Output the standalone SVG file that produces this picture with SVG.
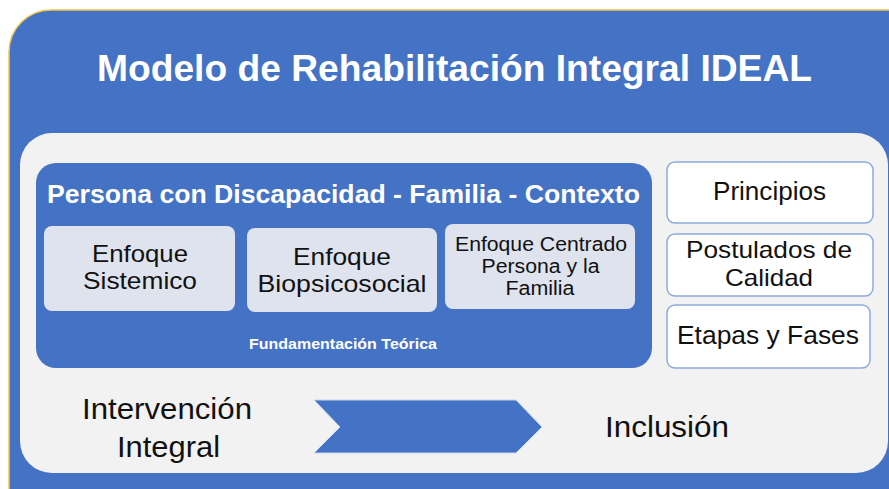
<svg xmlns="http://www.w3.org/2000/svg" width="889" height="489" viewBox="0 0 889 489">
<style>
.w{fill:#ffffff;font-family:"Liberation Sans",Arial,sans-serif;font-weight:bold;text-anchor:middle}
.t{fill:#111111;font-family:"Liberation Sans",Arial,sans-serif;text-anchor:middle}
.sub{fill:#dfe3ee;}
.side{fill:#ffffff;stroke:#8eaadb;stroke-width:1.5}
</style>
<rect width="889" height="489" fill="#ffffff"/>
<g id="outer">
<rect x="9" y="10" width="920" height="520" rx="42" fill="#4472c4" stroke="#f2c546" stroke-width="1.5"/>
<text class="w" x="454.5" y="81" font-size="37" textLength="715" lengthAdjust="spacingAndGlyphs">Modelo de Rehabilitación Integral IDEAL</text>
</g>
<g id="panel">
<rect x="20" y="133" width="868" height="340" rx="32" fill="#f2f2f2"/>
</g>
<g id="fundamentacion">
<rect x="36" y="163" width="616" height="205" rx="20" fill="#4472c4"/>
<text class="w" x="343.5" y="203" font-size="25" textLength="593" lengthAdjust="spacingAndGlyphs">Persona con Discapacidad - Familia - Contexto</text>
<text class="w" x="343" y="349" font-size="15.5" textLength="188" lengthAdjust="spacingAndGlyphs">Fundamentación Teórica</text>
</g>
<g id="sistemico">
<rect class="sub" x="44" y="226" width="191" height="85" rx="8"/>
<text class="t" x="140" y="262" font-size="24" textLength="96" lengthAdjust="spacingAndGlyphs">Enfoque</text>
<text class="t" x="140" y="289" font-size="24" textLength="114" lengthAdjust="spacingAndGlyphs">Sistemico</text>
</g>
<g id="biopsicosocial">
<rect class="sub" x="247" y="228" width="190" height="84" rx="8"/>
<text class="t" x="342" y="265" font-size="24" textLength="98" lengthAdjust="spacingAndGlyphs">Enfoque</text>
<text class="t" x="342" y="292" font-size="24" textLength="169" lengthAdjust="spacingAndGlyphs">Biopsicosocial</text>
</g>
<g id="centrado">
<rect class="sub" x="445" y="224" width="190" height="85" rx="8"/>
<text class="t" x="541" y="251" font-size="19.5" textLength="172" lengthAdjust="spacingAndGlyphs">Enfoque Centrado</text>
<text class="t" x="540.5" y="273" font-size="19.5" textLength="118" lengthAdjust="spacingAndGlyphs">Persona y la</text>
<text class="t" x="540" y="295" font-size="19.5" textLength="69" lengthAdjust="spacingAndGlyphs">Familia</text>
</g>
<g id="principios">
<rect class="side" x="667" y="162" width="206" height="61" rx="8"/>
<text class="t" x="769.5" y="200" font-size="25" textLength="113" lengthAdjust="spacingAndGlyphs">Principios</text>
</g>
<g id="postulados">
<rect class="side" x="667" y="234" width="206" height="62" rx="8"/>
<text class="t" x="769" y="258" font-size="24" textLength="166" lengthAdjust="spacingAndGlyphs">Postulados de</text>
<text class="t" x="769" y="286" font-size="24" textLength="88" lengthAdjust="spacingAndGlyphs">Calidad</text>
</g>
<g id="etapas">
<rect class="side" x="667" y="305" width="203" height="63" rx="8"/>
<text class="t" x="768" y="344" font-size="25" textLength="182" lengthAdjust="spacingAndGlyphs">Etapas y Fases</text>
</g>
<g id="intervencion">
<text class="t" x="167" y="419" font-size="30" textLength="170" lengthAdjust="spacingAndGlyphs">Intervención</text>
<text class="t" x="168.5" y="457" font-size="30" textLength="103" lengthAdjust="spacingAndGlyphs">Integral</text>
</g>
<g id="connectors">
<polygon points="314,400 516,400 542,427 516,453 314,453 340,427" fill="#4472c4" stroke="#c9d6ee" stroke-width="1"/>
</g>
<g id="inclusion">
<text class="t" x="667" y="437" font-size="30" textLength="124" lengthAdjust="spacingAndGlyphs">Inclusión</text>
</g>
</svg>
